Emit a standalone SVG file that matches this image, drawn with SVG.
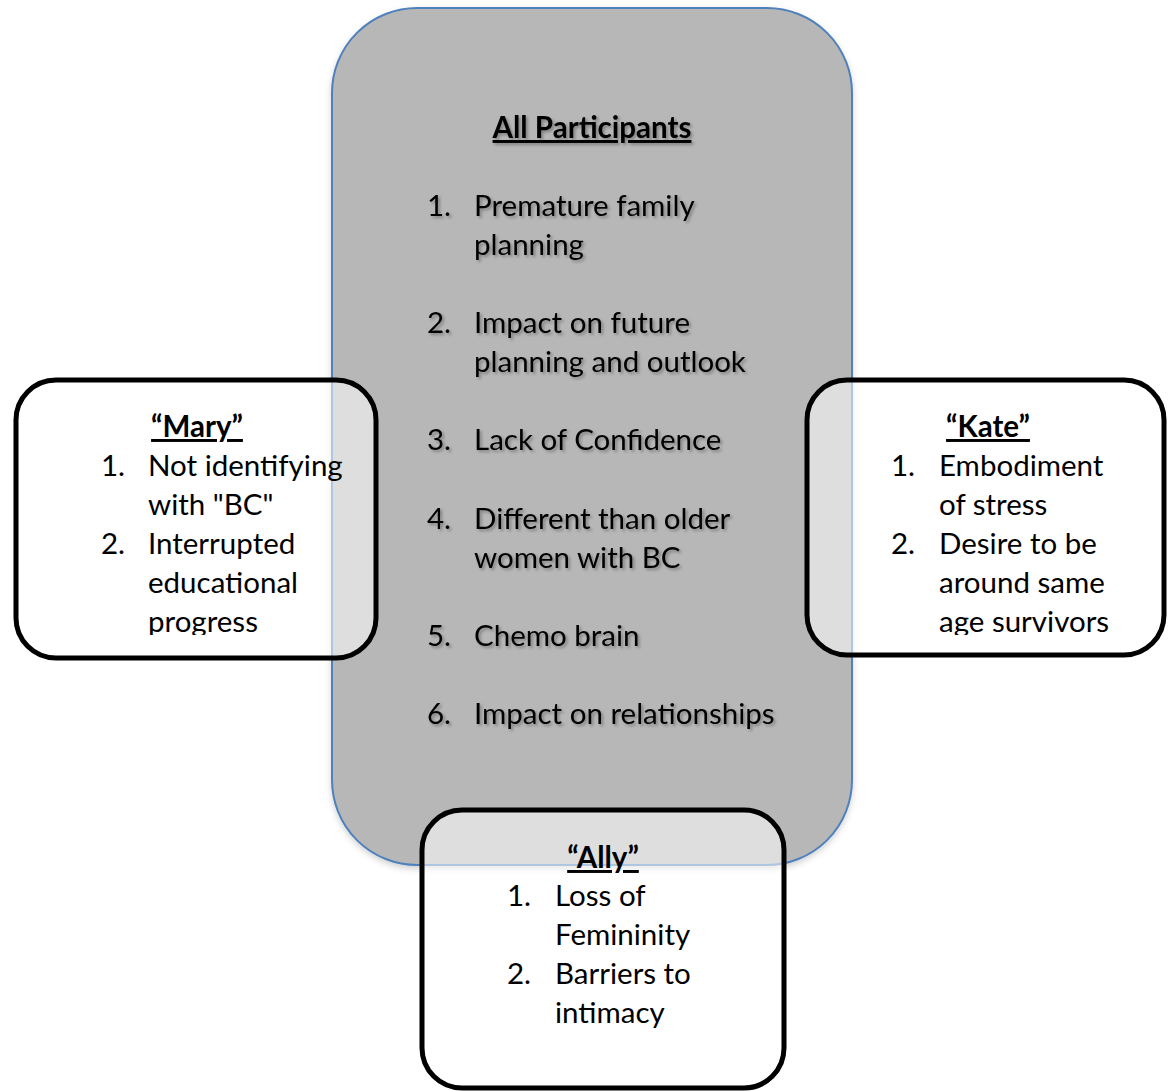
<svg xmlns="http://www.w3.org/2000/svg" width="1168" height="1091" viewBox="0 0 1168 1091">
<defs>
<filter id="tshadow" x="-10%" y="-30%" width="130%" height="170%">
<feDropShadow dx="2" dy="2" stdDeviation="1.5" flood-color="#000" flood-opacity="0.3"/>
</filter>
<filter id="bshadow" x="-5%" y="-5%" width="110%" height="110%">
<feDropShadow dx="0" dy="3" stdDeviation="3" flood-color="#000" flood-opacity="0.18"/>
</filter>
<clipPath id="clipMary"><rect x="16" y="380" width="380" height="255"/></clipPath>
<clipPath id="clipKate"><rect x="807" y="380" width="361" height="255"/></clipPath>
</defs>
<style>
text{font-family:Lato,"Noto Sans","Liberation Sans",sans-serif;font-size:29.5px;fill:#000}
.title{font-weight:bold;text-decoration:underline}
.mid{text-anchor:middle}
.outer{fill:#fff;fill-opacity:0.55;stroke:#000;stroke-width:5}
.center{fill:#b7b7b7;stroke:#4f81bd;stroke-width:2}
.shadow{filter:url(#tshadow)}
</style>
<g id="connectors"></g>
<g id="all-participants">
<rect class="center" x="332" y="8" width="520" height="857" rx="85" ry="85" filter="url(#bshadow)"/>
</g>
<g id="mary">
<rect class="outer" x="16" y="380" width="360" height="278" rx="40" ry="40"/>
</g>
<g id="kate">
<rect class="outer" x="807" y="380" width="357" height="275" rx="40" ry="40"/>
</g>
<g id="ally">
<rect class="outer" x="422" y="810" width="362" height="278" rx="40" ry="40"/>
</g>
<g id="all-participants-text" class="shadow">
<text class="title mid" x="592" y="138">All Participants</text>
<text x="427" y="216">1.</text><text x="474" y="216">Premature family</text>
<text x="474" y="255">planning</text>
<text x="427" y="333">2.</text><text x="474" y="333">Impact on future</text>
<text x="474" y="372">planning and outlook</text>
<text x="427" y="450">3.</text><text x="474" y="450">Lack of Confidence</text>
<text x="427" y="529">4.</text><text x="474" y="529">Different than older</text>
<text x="474" y="568">women with BC</text>
<text x="427" y="646">5.</text><text x="474" y="646">Chemo brain</text>
<text x="427" y="724">6.</text><text x="474" y="724">Impact on relationships</text>
</g>
<g id="mary-text" clip-path="url(#clipMary)">
<text class="title mid" x="197" y="437">“Mary”</text>
<text x="101" y="476">1.</text><text x="148" y="476">Not identifying</text>
<text x="148" y="515">with "BC"</text>
<text x="101" y="554">2.</text><text x="148" y="554">Interrupted</text>
<text x="148" y="593">educational</text>
<text x="148" y="632">progress</text>
</g>
<g id="kate-text" clip-path="url(#clipKate)">
<text class="title mid" x="988" y="437">“Kate”</text>
<text x="891" y="476">1.</text><text x="939" y="476">Embodiment</text>
<text x="939" y="515">of stress</text>
<text x="891" y="554">2.</text><text x="939" y="554">Desire to be</text>
<text x="939" y="593">around same</text>
<text x="939" y="632">age survivors</text>
</g>
<g id="ally-text">
<text class="title mid" x="603" y="868">“Ally”</text>
<text x="507" y="906">1.</text><text x="555" y="906">Loss of</text>
<text x="555" y="945">Femininity</text>
<text x="507" y="984">2.</text><text x="555" y="984">Barriers to</text>
<text x="555" y="1023">intimacy</text>
</g>
</svg>
